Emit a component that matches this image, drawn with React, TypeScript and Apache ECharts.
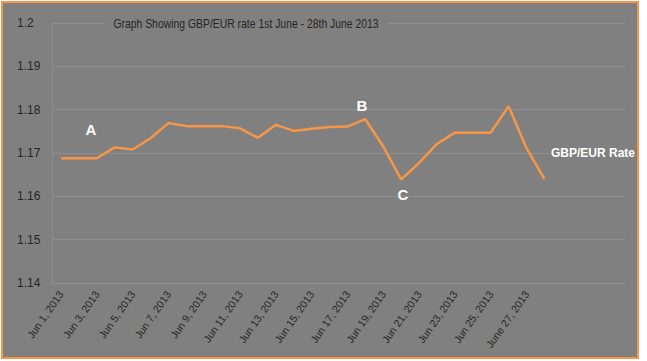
import React, { useEffect, useRef } from "react";
import * as echarts from "echarts";

const categories: string[] = [
  "Jun 1, 2013", "Jun 2, 2013", "Jun 3, 2013", "Jun 4, 2013", "Jun 5, 2013", "Jun 6, 2013",
  "Jun 7, 2013", "Jun 8, 2013", "Jun 9, 2013", "Jun 10, 2013", "Jun 11, 2013", "Jun 12, 2013",
  "Jun 13, 2013", "Jun 14, 2013", "Jun 15, 2013", "Jun 16, 2013", "Jun 17, 2013", "Jun 18, 2013",
  "Jun 19, 2013", "Jun 20, 2013", "Jun 21, 2013", "Jun 22, 2013", "Jun 23, 2013", "Jun 24, 2013",
  "Jun 25, 2013", "Jun 26, 2013", "June 27, 2013", "Jun 28, 2013", "", "", "", "",
];

const rates: number[] = [
  1.1688, 1.1688, 1.1688, 1.1713, 1.1708, 1.1734, 1.1769, 1.1762, 1.1762, 1.1762,
  1.1757, 1.1735, 1.1765, 1.1751, 1.1756, 1.1760, 1.1761, 1.1778, 1.1715, 1.1639,
  1.1677, 1.1721, 1.1747, 1.1747, 1.1747, 1.1808, 1.1711, 1.1640,
];

const yTicks = { min: 1.14, max: 1.2, step: 0.01 };
const title = "Graph Showing GBP/EUR rate 1st June - 28th June 2013";
const seriesName = "GBP/EUR Rate";

const FONT = "'Liberation Sans', Arial, sans-serif";
const BG = "#808080";

export default function App() {
  const ref = useRef<HTMLDivElement>(null);
  useEffect(() => {
    if (!ref.current) return;
    const chart = echarts.init(ref.current, undefined, { renderer: "svg" });
    chart.setOption({
      animation: false,
      backgroundColor: "#ffffff",
      grid: { left: 52, right: 22, top: 23, bottom: 78, containLabel: false },
      graphic: [
        {
          type: "rect",
          z: -10,
          shape: { x: 2, y: 2, width: 636, height: 356 },
          style: { fill: BG, stroke: "#f79646", lineWidth: 2 },
        },
        {
          type: "text",
          x: 246,
          y: 23,
          scaleX: 0.8,
          z: 10,
          style: {
            text: title,
            fill: "#262626",
            font: `13px ${FONT}`,
            textAlign: "center",
            textVerticalAlign: "middle",
            backgroundColor: BG,
            padding: [2, 12],
          },
        },
        { type: "text", x: 91, y: 129, z: 10, style: { text: "A", fill: "#ffffff", font: `bold 15px ${FONT}`, textAlign: "center", textVerticalAlign: "middle" } },
        { type: "text", x: 362, y: 105, z: 10, style: { text: "B", fill: "#ffffff", font: `bold 15px ${FONT}`, textAlign: "center", textVerticalAlign: "middle" } },
        { type: "text", x: 403, y: 194, z: 10, style: { text: "C", fill: "#ffffff", font: `bold 15px ${FONT}`, textAlign: "center", textVerticalAlign: "middle" } },
        {
          type: "text",
          x: 593,
          y: 153,
          z: 10,
          style: {
            text: seriesName,
            fill: "#ffffff",
            font: `bold 12px ${FONT}`,
            textAlign: "center",
            textVerticalAlign: "middle",
            backgroundColor: BG,
            padding: [2, 2],
          },
        },
      ],
      xAxis: {
        type: "category",
        data: categories,
        boundaryGap: true,
        axisLine: { show: true, lineStyle: { color: "#8e8e8e" } },
        axisTick: { show: false },
        axisLabel: {
          interval: 1,
          rotate: 55,
          color: "#262626",
          fontSize: 10.5,
          fontFamily: FONT,
          margin: 9,
        },
        splitLine: { show: false },
      },
      yAxis: {
        type: "value",
        min: yTicks.min,
        max: yTicks.max,
        interval: yTicks.step,
        axisLine: { show: true, lineStyle: { color: "#8e8e8e" } },
        axisTick: { show: false },
        axisLabel: {
          color: "#262626",
          fontSize: 12,
          fontFamily: FONT,
          align: "left",
          margin: 35,
          formatter: (v: number) => String(parseFloat(v.toFixed(2))),
        },
        splitLine: { show: true, lineStyle: { color: "#8e8e8e", width: 1 } },
      },
      series: [
        {
          name: seriesName,
          type: "line",
          data: rates,
          symbol: "none",
          lineStyle: { color: "#f79646", width: 2.5 },
        },
      ],
    });
    return () => chart.dispose();
  }, []);
  return (
    <div
      ref={ref}
      style={{ position: "fixed", left: 0, top: 0, width: 647, height: 361 }}
    />
  );
}
